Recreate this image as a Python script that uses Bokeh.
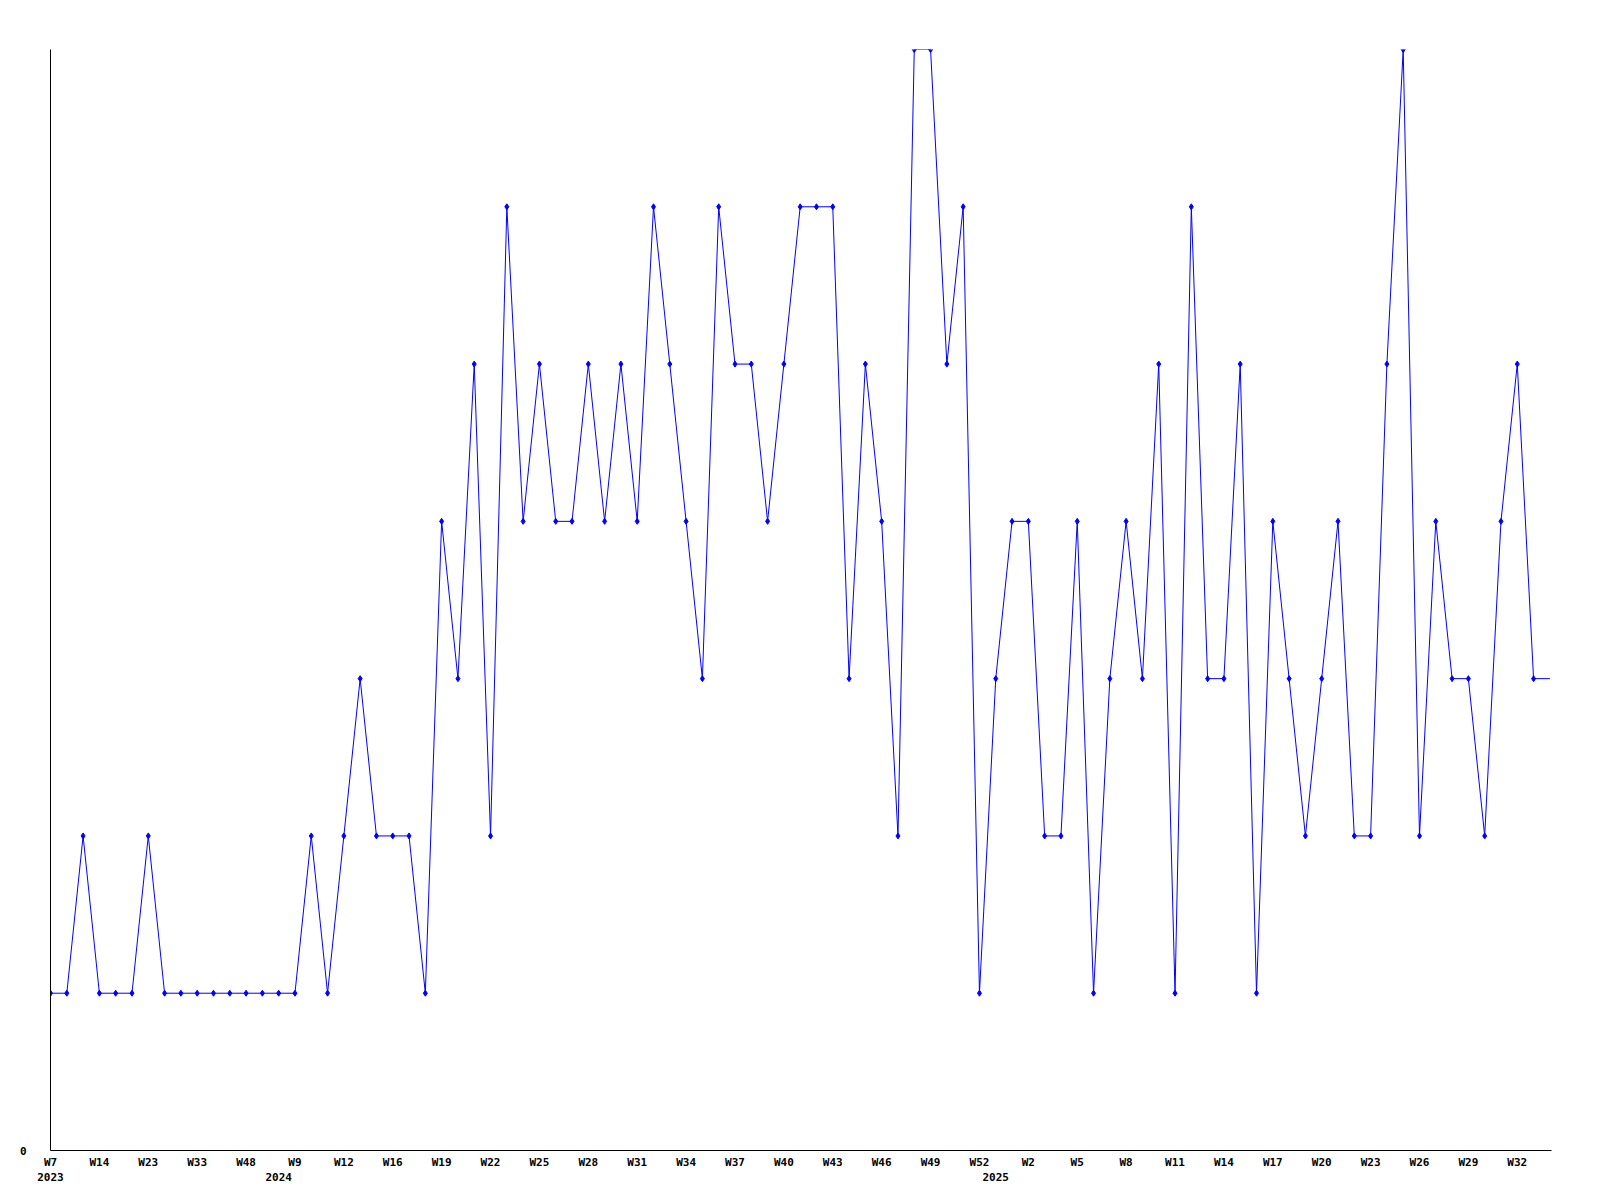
from bokeh.plotting import figure
from bokeh.models import Range1d, FixedTicker, LinearAxis
from bokeh.embed import file_html
from bokeh.resources import INLINE

# weekly counts, one per category (week), in order
values = [1, 1, 2, 1, 1, 1, 2, 1, 1, 1, 1, 1, 1, 1, 1, 1, 2, 1, 2, 3,
          2, 2, 2, 1, 4, 3, 5, 2, 6, 4, 5, 4, 4, 5, 4, 5, 4, 6, 5, 4,
          3, 6, 5, 5, 4, 5, 6, 6, 6, 3, 5, 4, 2, 7, 7, 5, 6, 1, 3, 4,
          4, 2, 2, 4, 1, 3, 4, 3, 5, 1, 6, 3, 3, 5, 1, 4, 3, 2, 3, 4,
          2, 2, 5, 7, 2, 4, 3, 3, 2, 4, 5, 3, 3]

# week labels shown on every third category
week_labels = ["W7", "W14", "W23", "W33", "W48", "W9", "W12", "W16", "W19",
               "W22", "W25", "W28", "W31", "W34", "W37", "W40", "W43", "W46",
               "W49", "W52", "W2", "W5", "W8", "W11", "W14", "W17", "W20",
               "W23", "W26", "W29", "W32"]
label_step = 3

# years and the category index at which each begins
years = ["2023", "2024", "2025"]
year_start = [0, 14, 58]

x = list(range(len(values)))
week_idx = [i * label_step for i in range(len(week_labels))]

FONT = "DejaVu Sans Mono"

p = figure(width=1584, height=1184, frame_width=1501, frame_height=1101,
           min_border_left=50, min_border_right=33, min_border_top=49,
           min_border_bottom=34, output_backend="svg", toolbar_location=None,
           x_range=Range1d(0, 92.1), y_range=Range1d(0, 7))
p.outline_line_color = None
p.xgrid.visible = False
p.ygrid.visible = False
p.background_fill_color = "white"
p.border_fill_color = "white"

p.line(x, values, line_color="#0000FF", line_width=1)
p.scatter(x[:-1], values[:-1], marker="diamond", size=6,
          fill_color="#0000FF", line_color="#0000FF")

xa = p.xaxis[0]
xa.ticker = FixedTicker(ticks=week_idx)
xa.major_label_overrides = {i: l for i, l in zip(week_idx, week_labels)}
xa.major_tick_line_color = None
xa.minor_tick_line_color = None
xa.axis_line_color = "black"
xa.major_label_text_font = FONT
xa.major_label_text_font_style = "bold"
xa.major_label_text_font_size = "11px"
xa.major_label_text_color = "black"
xa.major_label_standoff = -1

ya = LinearAxis(ticker=FixedTicker(ticks=year_start))
ya.major_label_overrides = {i: y for i, y in zip(year_start, years)}
ya.axis_line_color = None
ya.major_tick_line_color = None
ya.minor_tick_line_color = None
ya.major_label_text_font = FONT
ya.major_label_text_font_style = "bold"
ya.major_label_text_font_size = "11px"
ya.major_label_text_color = "black"
ya.major_label_standoff = -5
p.add_layout(ya, "below")

yax = p.yaxis[0]
yax.ticker = FixedTicker(ticks=[0])
yax.major_tick_line_color = None
yax.minor_tick_line_color = None
yax.axis_line_color = "black"
yax.major_label_text_font = FONT
yax.major_label_text_font_style = "bold"
yax.major_label_text_font_size = "11px"
yax.major_label_text_color = "black"
yax.major_label_standoff = 18

open("out.html", "w").write(file_html(p, INLINE))
